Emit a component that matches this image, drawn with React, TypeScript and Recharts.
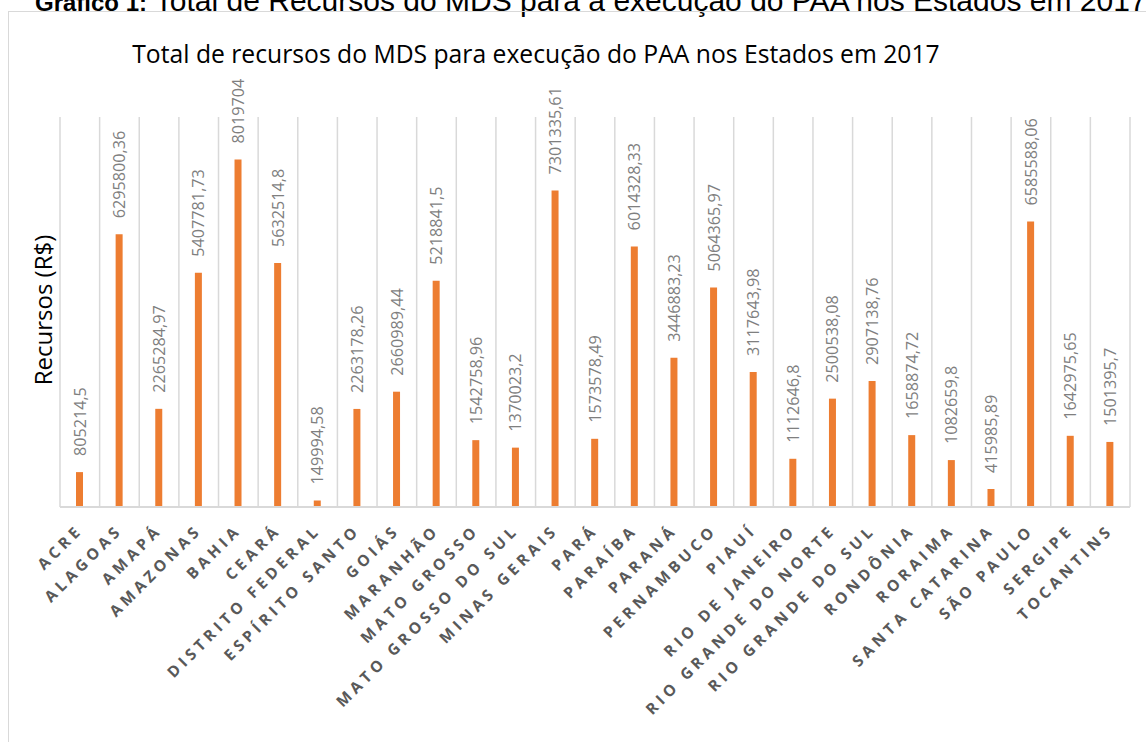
import React from 'react';
import { BarChart, Bar, XAxis, YAxis, CartesianGrid, LabelList } from 'recharts';

const estados = [
    'ACRE', 'ALAGOAS', 'AMAPÁ', 'AMAZONAS', 'BAHIA', 'CEARÁ', 'DISTRITO FEDERAL',
    'ESPÍRITO SANTO', 'GOIÁS', 'MARANHÃO', 'MATO GROSSO', 'MATO GROSSO DO SUL',
    'MINAS GERAIS', 'PARÁ', 'PARAÍBA', 'PARANÁ', 'PERNAMBUCO', 'PIAUÍ',
    'RIO DE JANEIRO', 'RIO GRANDE DO NORTE', 'RIO GRANDE DO SUL', 'RONDÔNIA',
    'RORAIMA', 'SANTA CATARINA', 'SÃO PAULO', 'SERGIPE', 'TOCANTINS'
];

const recursos = [
    805214.5, 6295800.36, 2265284.97, 5407781.73, 8019704, 5632514.8, 149994.58,
    2263178.26, 2660989.44, 5218841.5, 1542758.96, 1370023.2,
    7301335.61, 1573578.49, 6014328.33, 3446883.23, 5064365.97, 3117643.98,
    1112646.8, 2500538.08, 2907138.76, 1658874.72,
    1082659.8, 415985.89, 6585588.06, 1642975.65, 1501395.7
];

const yDomain = [0, 9000000];

const data = estados.map((estado, i) => ({ estado, valor: recursos[i] }));

const formatValor = (v: number) => String(v).replace('.', ',');

const CategoryTick = (props: any) => {
    const { x, y, payload } = props;
    return (
        <g transform={`translate(${x + 4},${y + 16})`}>
            <text
                transform="rotate(-45)"
                textAnchor="end"
                fill="#595959"
                fontSize={15.5}
                fontWeight="bold"
                letterSpacing={4.2}
                fontFamily="'Open Sans', sans-serif"
            >
                {payload.value}
            </text>
        </g>
    );
};

const ValueLabel = (props: any) => {
    const { x, y, width, value } = props;
    const cx = x + width / 2 + 6;
    const cy = y - 16;
    return (
        <text
            transform={`translate(${cx},${cy}) rotate(-90)`}
            textAnchor="start"
            fill="#7f7f7f"
            fontSize={16.2}
            fontFamily="'Open Sans', sans-serif"
        >
            {formatValor(value)}
        </text>
    );
};

const App: React.FC = () => {
    return (
        <div style={{ position: 'absolute', left: 0, top: 0, width: 1146, height: 742, overflow: 'hidden', background: '#fff' }}>
            <div style={{
                position: 'absolute', left: 35, top: -14, whiteSpace: 'nowrap',
                fontFamily: "'Liberation Sans', Arial, sans-serif", lineHeight: '30px', color: '#000'
            }}>
                <b style={{ fontSize: 24 }}>Gráfico 1:</b>
                <span style={{ fontSize: 30 }}> Total de Recursos do MDS para a execução do PAA nos Estados em 2017</span>
            </div>
            <div style={{
                position: 'absolute', left: 8, top: 11, width: 1200, height: 800,
                border: '1.5px solid #d9d9d9', boxSizing: 'border-box'
            }} />
            <div style={{
                position: 'absolute', left: 0, top: 38, width: 1072, textAlign: 'center',
                fontFamily: "'Open Sans', sans-serif", fontSize: 24.7, lineHeight: '32px', color: '#000', whiteSpace: 'nowrap'
            }}>
                Total de recursos do MDS para execução do PAA nos Estados em 2017
            </div>
            <div style={{
                position: 'absolute', left: 42, top: 310, transform: 'translate(-50%, -50%) rotate(-90deg)',
                fontFamily: "'Open Sans', sans-serif", fontSize: 24, color: '#000', whiteSpace: 'nowrap'
            }}>
                Recursos (R$)
            </div>
            <div style={{ position: 'absolute', left: 0, top: 0 }}>
                <BarChart
                    width={1146}
                    height={742}
                    data={data}
                    margin={{ top: 117, right: 16, bottom: 10, left: 60 }}
                    barCategoryGap={0}
                >
                    <CartesianGrid
                        horizontal={false}
                        stroke="#d9d9d9"
                        strokeWidth={1.5}
                        verticalCoordinatesGenerator={({ offset }: any) =>
                            estados.map((_, i) => offset.left + (i * offset.width) / estados.length)
                                .concat([offset.left + offset.width])
                        }
                    />
                    <XAxis
                        dataKey="estado"
                        interval={0}
                        height={225}
                        tickLine={false}
                        axisLine={{ stroke: '#d9d9d9', strokeWidth: 2 }}
                        tick={<CategoryTick />}
                    />
                    <YAxis hide domain={yDomain} />
                    <Bar dataKey="valor" fill="#ED7D31" barSize={7} isAnimationActive={false}>
                        <LabelList dataKey="valor" content={<ValueLabel />} />
                    </Bar>
                </BarChart>
            </div>
        </div>
    );
};

export default App;
